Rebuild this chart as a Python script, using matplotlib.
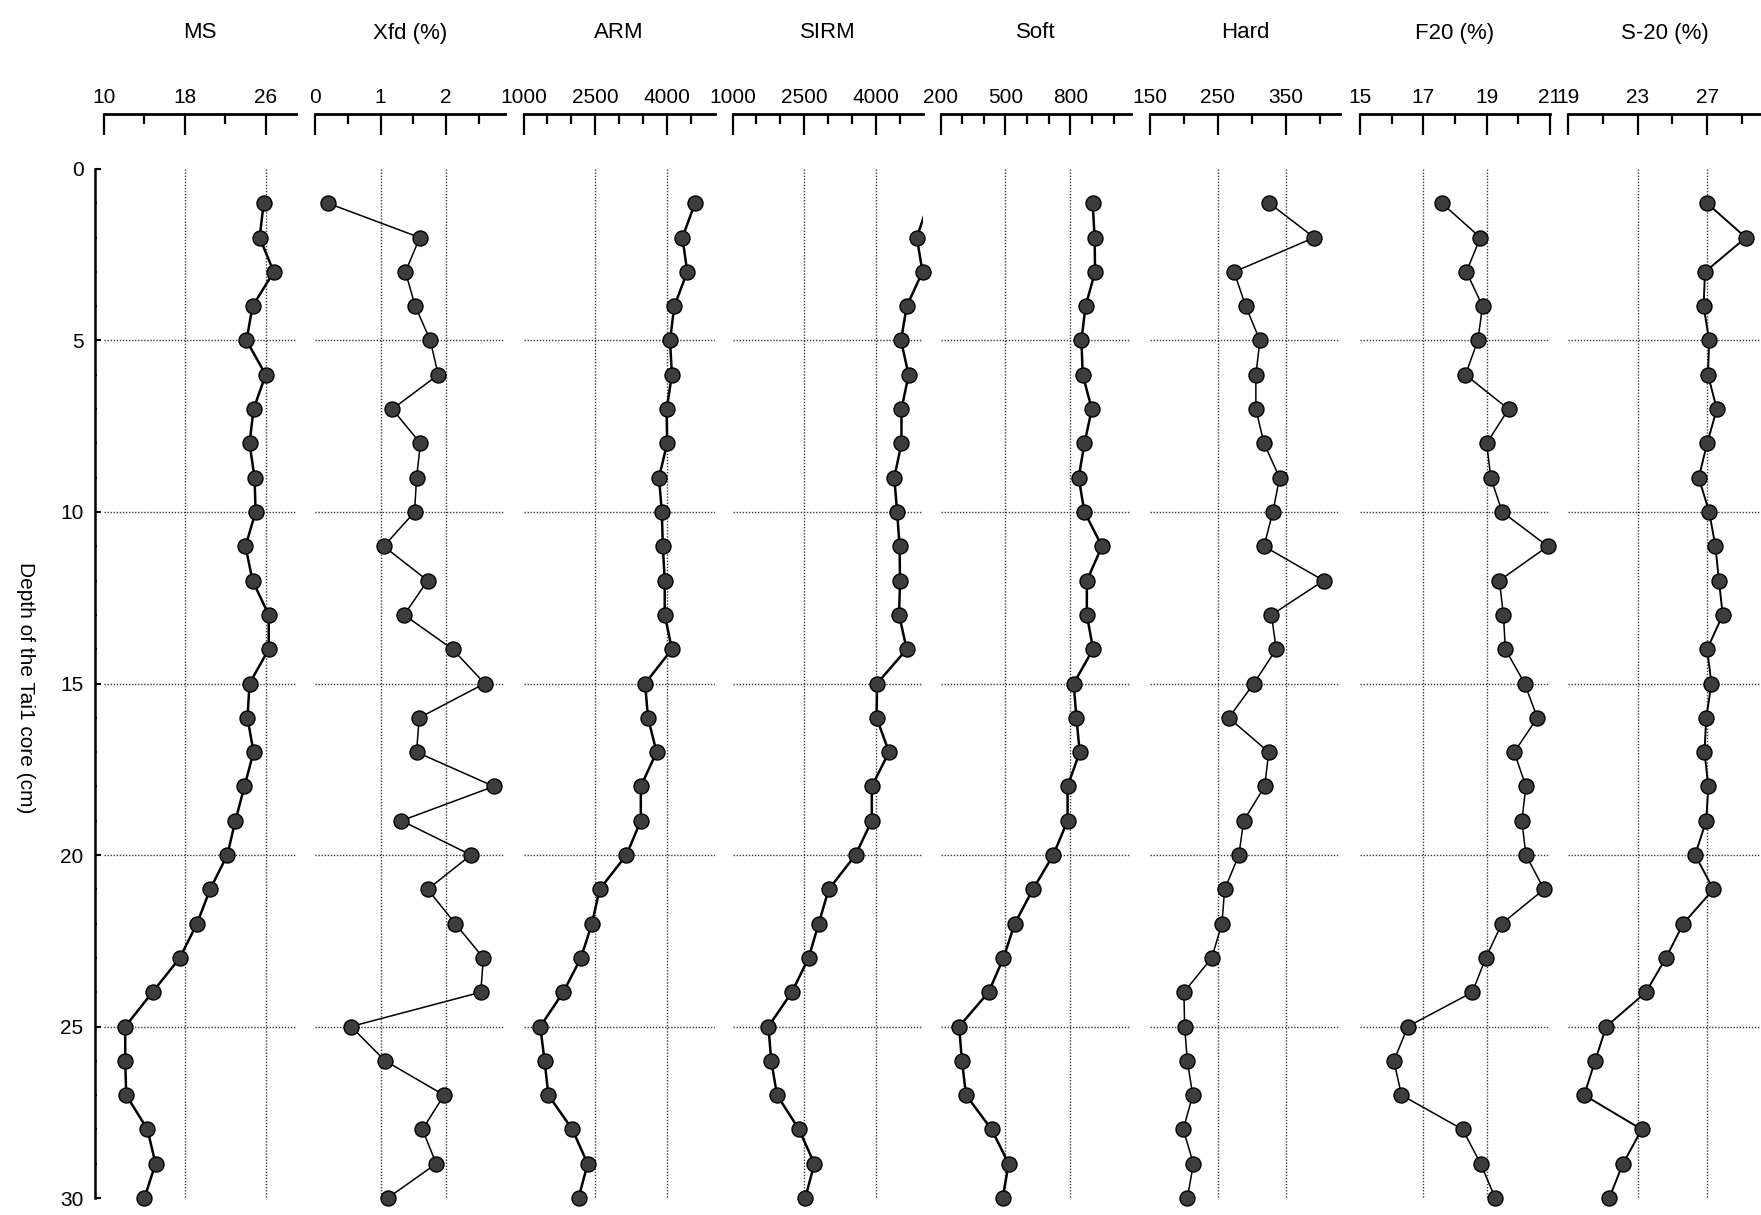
import numpy as np
import matplotlib
matplotlib.use("Agg")
import matplotlib.pyplot as plt

plt.rcParams['font.family'] = ['Liberation Sans', 'DejaVu Sans']

# Sampling depths (cm) of the Tai1 core
depth = np.arange(1, 31)

ms = [25.8, 25.4, 26.8, 24.7, 24.1, 26.0, 24.8, 24.4, 24.9, 25.0,
      24.0, 24.7, 26.3, 26.3, 24.4, 24.2, 24.8, 23.9, 23.0, 22.2,
      20.5, 19.2, 17.5, 14.8, 12.1, 12.1, 12.2, 14.3, 15.1, 14.0]
xfd = [0.2, 1.6, 1.38, 1.53, 1.76, 1.88, 1.18, 1.61, 1.55, 1.52,
       1.05, 1.72, 1.36, 2.1, 2.59, 1.59, 1.55, 2.73, 1.32, 2.38,
       1.72, 2.14, 2.57, 2.53, 0.55, 1.07, 1.97, 1.64, 1.85, 1.11]
arm = [4580, 4320, 4420, 4150, 4060, 4100, 3990, 4000, 3830, 3890,
       3910, 3950, 3950, 4100, 3540, 3600, 3780, 3450, 3450, 3150,
       2590, 2430, 2200, 1830, 1350, 1440, 1520, 2020, 2340, 2150]
sirm = [5090, 4850, 4970, 4640, 4520, 4680, 4530, 4530, 4380, 4440,
        4490, 4500, 4480, 4640, 4020, 4010, 4270, 3910, 3910, 3570,
        3010, 2800, 2590, 2240, 1750, 1810, 1930, 2390, 2710, 2520]
soft = [903, 912, 914, 870, 851, 857, 899, 865, 838, 865,
        946, 876, 876, 905, 815, 828, 843, 787, 787, 721,
        627, 543, 491, 422, 286, 299, 318, 436, 515, 487]
hard = [326, 392, 274, 291, 312, 306, 306, 318, 341, 331,
        318, 406, 329, 336, 303, 266, 325, 319, 288, 281,
        260, 256, 241, 200, 201, 205, 213, 199, 214, 205]
f20 = [17.59, 18.8, 18.36, 18.87, 18.72, 18.33, 19.69, 19.0, 19.13, 19.49,
       20.93, 19.4, 19.53, 19.59, 20.2, 20.6, 19.87, 20.24, 20.11, 20.24,
       20.81, 19.48, 18.97, 18.55, 16.51, 16.07, 16.31, 18.24, 18.81, 19.27]
s20 = [27.0, 29.23, 26.88, 26.8, 27.12, 27.05, 27.56, 27.0, 26.52, 27.12,
       27.48, 27.68, 27.9, 27.0, 27.25, 26.95, 26.85, 27.07, 26.95, 26.31,
       27.36, 25.63, 24.63, 23.48, 21.2, 20.56, 19.93, 23.24, 22.16, 21.37]

titles = ['MS', 'Xfd (%)', 'ARM', 'SIRM', 'Soft', 'Hard', 'F20 (%)', 'S-20 (%)']
series = [ms, xfd, arm, sirm, soft, hard, f20, s20]
limits = [(10, 29), (0, 2.9), (1000, 5000), (1000, 4980),
          (200, 1080), (150, 430), (15, 21), (19, 30.1)]
major_ticks = [[10, 18, 26], [0, 1, 2], [1000, 2500, 4000], [1000, 2500, 4000],
               [200, 500, 800], [150, 250, 350], [15, 17, 19, 21], [19, 23, 27]]
minor_ticks = [[14, 22], [0.5, 1.5, 2.5], [1500, 2000, 3000, 3500, 4500],
               [1500, 2000, 3000, 3500, 4500], [300, 400, 600, 700, 900, 1000],
               [200, 300, 400], [16, 18, 20], [21, 25, 29]]
depth_ticks = [0, 5, 10, 15, 20, 25, 30]
depth_grid = [5, 10, 15, 20, 25]

# Panel geometry in pixels (left, right) and line weights
W, H = 1761, 1215
panel_px = [(104, 296), (315, 505), (523.5, 715), (732.5, 923),
            (940.5, 1131), (1150, 1340), (1360, 1550), (1568, 1761)]
line_w = [1.8, 1.1, 1.8, 1.8, 1.8, 1.1, 1.1, 1.4]
top_px, bot_px = 160.4, 1206.6

fig = plt.figure(figsize=(W / 100, H / 100), dpi=100)
grid_style = dict(color='#3a3a3a', lw=1.0, ls=(0, (1, 1.2)), zorder=1)

for i, (title, vals) in enumerate(zip(titles, series)):
    x0, x1 = panel_px[i]
    ax = fig.add_axes([x0 / W, 1 - bot_px / H, (x1 - x0) / W, (bot_px - top_px) / H])
    lo, hi = limits[i]
    ax.set_xlim(lo, hi)
    ax.set_ylim(30.25, -0.25)
    ax.patch.set_alpha(0)

    for s in ('bottom', 'right', 'left'):
        ax.spines[s].set_visible(False)
    ax.spines['top'].set_position(('outward', 33.5))
    ax.spines['top'].set_linewidth(2.0)
    ax.xaxis.set_ticks_position('top')
    ax.set_xticks(major_ticks[i], labels=[f'{v:g}' for v in major_ticks[i]])
    ax.set_xticks(minor_ticks[i], minor=True)
    ax.tick_params(axis='x', which='major', direction='in', length=15,
                   width=1.6, pad=5, labelsize=15)
    ax.tick_params(axis='x', which='minor', direction='in', length=7.5, width=1.6)

    # Dotted reference grid
    inner = [v for v in major_ticks[i] if lo < v < hi]
    ax.vlines(inner, 0, 30, **grid_style)
    ax.hlines(depth_grid, lo, hi, **grid_style)

    if i == 0:
        ax.spines['left'].set_visible(True)
        ax.spines['left'].set_position(('outward', 6.8))
        ax.spines['left'].set_bounds(0, 30)
        ax.spines['left'].set_linewidth(1.8)
        ax.set_yticks(depth_ticks, labels=[str(v) for v in depth_ticks])
        ax.set_yticks(range(0, 31), minor=True)
        ax.tick_params(axis='y', which='major', direction='in', length=4,
                       width=1.5, pad=8, labelsize=15)
        ax.tick_params(axis='y', which='minor', direction='in', length=1.5, width=1.2)
    else:
        ax.tick_params(axis='y', which='both', left=False, labelleft=False)

    v = np.asarray(vals, dtype=float)
    ax.plot(v, depth, '-', color='black', lw=line_w[i], zorder=3)
    inside = (v >= lo) & (v <= hi)
    ax.plot(v[inside], depth[inside], 'o', ms=10.8, mfc='#3d3d3d', mec='black',
            mew=1.0, clip_on=False, zorder=4)

    fig.text((x0 + x1) / 2 / W, 1 - 33 / H, title, ha='center', va='center', fontsize=16)

fig.text(25 / W, 1 - 688 / H, 'Depth of the Tai1 core (cm)', rotation=270,
         ha='center', va='center', fontsize=15)

fig.savefig('out.png', dpi=100)
